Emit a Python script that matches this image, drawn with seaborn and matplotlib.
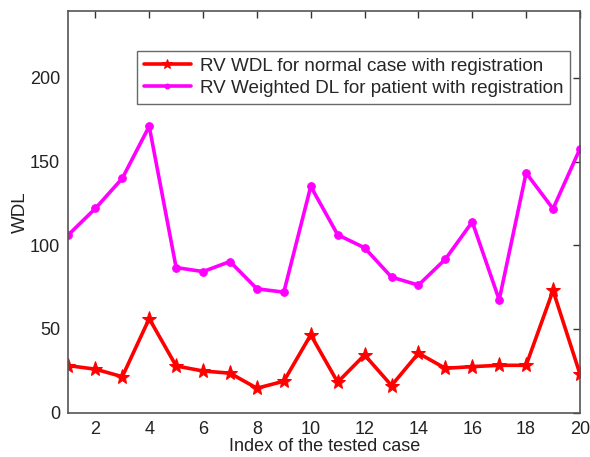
import matplotlib
matplotlib.use("Agg")
import matplotlib.pyplot as plt
import numpy as np
import pandas as pd
import seaborn as sns

case_index = list(range(1, 21))
wdl_normal = [28.1, 26.0, 21.5, 56.2, 27.9, 24.9, 23.6, 14.6, 18.8, 46.5,
              18.2, 34.5, 16.2, 35.5, 26.5, 27.5, 28.3, 28.3, 73.0, 23.1]
wdl_patient = [106.3, 122.0, 140.0, 171.1, 86.7, 84.3, 90.3, 74.0, 72.0, 135.2,
               106.3, 98.5, 81.0, 76.2, 91.7, 114.0, 67.4, 143.2, 121.8, 157.7]
label_normal = "RV WDL for normal case with registration"
label_patient = "RV Weighted DL for patient with registration"
x_ticks = [2, 4, 6, 8, 10, 12, 14, 16, 18, 20]
y_ticks = [0, 50, 100, 150, 200]

sns.set_style("white")
plt.rcParams["font.family"] = ["Liberation Sans", "DejaVu Sans"]

df = pd.DataFrame({
    "case": case_index * 2,
    "wdl": wdl_normal + wdl_patient,
    "series": [label_normal] * len(case_index) + [label_patient] * len(case_index),
})

fig = plt.figure(figsize=(5.9, 4.57), dpi=100)
ax = fig.add_axes([0.116, 0.097, 0.867, 0.879])

sns.lineplot(data=df, x="case", y="wdl", hue="series", style="series",
             palette={label_normal: "#ff0000", label_patient: "#ff00ff"},
             markers={label_normal: "*", label_patient: "o"},
             dashes=False, linewidth=2.6, ax=ax, legend=True)
for line, ms in zip(ax.lines[:2], [11, 5.5]):
    line.set_markersize(ms)
    line.set_markeredgecolor(line.get_color())

ax.set_xlim(1, 20)
ax.set_ylim(0, 240)
ax.set_xticks(x_ticks)
ax.set_yticks(y_ticks)
ax.tick_params(direction="in", length=5, width=1, top=True, right=True,
               labelsize=13, colors="#333333", labelcolor="#222222", pad=6)
for sp in ax.spines.values():
    sp.set_color("#555555")
    sp.set_linewidth(1.2)
ax.set_xlabel("Index of the tested case", fontsize=13, color="#222222", labelpad=0)
ax.set_ylabel("WDL", fontsize=13.5, color="#222222", labelpad=1)

leg = ax.legend(loc="upper left", bbox_to_anchor=(0.134, 0.9), fontsize=13.6,
                frameon=True, fancybox=False, edgecolor="#444444",
                handlelength=2.5, borderpad=0.35, labelspacing=0.25,
                handletextpad=0.5, borderaxespad=0)
leg.get_frame().set_linewidth(1.0)
for h, ms in zip(leg.legend_handles, [7, 3.5]):
    h.set_markersize(ms)
    h.set_markeredgecolor(h.get_color())

fig.savefig("out.png", dpi=100)
